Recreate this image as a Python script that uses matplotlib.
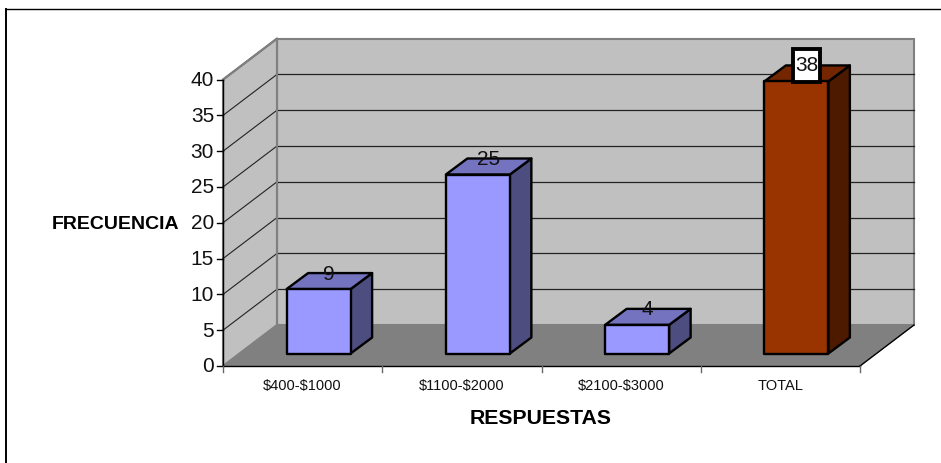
#!/usr/bin/env python3
import matplotlib
matplotlib.use("Agg")
import matplotlib.pyplot as plt
from matplotlib.patches import Polygon, Rectangle

plt.rcParams['font.family'] = ['Liberation Sans', 'DejaVu Sans']

categorias = ["$400-$1000", "$1100-$2000", "$2100-$3000", "TOTAL"]
valores = [9, 25, 4, 38]
ticks_y = [0, 5, 10, 15, 20, 25, 30, 35, 40]

W, H = 941, 464
# escala de pixeles: plano frontal
X0, PX_CAT = 223, 159.25
Y0, PX_VAL = 367, 7.16
# profundidad de la caja y de la barra (en unidades de datos)
DX, DY = 54 / PX_CAT, 41 / PX_VAL
BX, BY = 21.5 / PX_CAT, 16 / PX_VAL
BAR_OFF_X, BAR_OFF_Y = 16 / PX_CAT, 12.5 / PX_VAL
BAR_W = 64 / PX_CAT

fig = plt.figure(figsize=(W / 100, H / 100), dpi=100)
ax = fig.add_axes([0, 0, 1, 1])
ax.set_xlim(-X0 / PX_CAT, (W - X0) / PX_CAT)
ax.set_ylim((Y0 - H) / PX_VAL, Y0 / PX_VAL)
ax.axis("off")

GRIS = "#c0c0c0"
BORDE = "#808080"
n = len(categorias)

# paredes y piso
ax.add_patch(Polygon([(DX, DY), (n + DX, DY), (n + DX, 40 + DY), (DX, 40 + DY)],
                     fc=GRIS, ec=BORDE, lw=1.5, zorder=1))
ax.add_patch(Polygon([(0, 0), (DX, DY), (DX, 40 + DY), (0, 40)],
                     fc=GRIS, ec=BORDE, lw=1.5, zorder=1))
ax.add_patch(Polygon([(0, 0), (n, 0), (n + DX, DY), (DX, DY)],
                     fc=BORDE, ec=BORDE, lw=0.5, zorder=2))

# lineas de la cuadricula
for t in ticks_y[1:]:
    if t < 40:
        ax.plot([DX, n + DX], [t + DY, t + DY], color="#222222", lw=0.9, zorder=2)
    ax.plot([0, DX], [t, t + DY], color="#222222", lw=0.8, zorder=2)
ax.plot([0, DX], [40, 40 + DY], color=BORDE, lw=1.5, zorder=3)
ax.plot([DX, DX], [DY, 40 + DY], color=BORDE, lw=1.5, zorder=3)

# ejes
ax.plot([0, 0], [0, 40], color="black", lw=1, zorder=4)
ax.plot([0, n], [0, 0], color="black", lw=1, zorder=4)
ax.plot([n, n + DX], [0, DY], color="black", lw=1, zorder=3)
for t in ticks_y:
    ax.plot([-6 / PX_CAT, 0], [t, t], color="black", lw=1, zorder=4)
    ax.text(-9 / PX_CAT, t, str(t), ha="right", va="center", fontsize=15, color="#111111")
for i in range(n + 1):
    ax.plot([i, i], [0, -6 / PX_VAL], color="#666666", lw=1, zorder=4)

# barras
for i, (cat, v) in enumerate(zip(categorias, valores)):
    if cat == "TOTAL":
        cara, lado, tapa = "#993300", "#4d1a00", "#732600"
    else:
        cara, lado, tapa = "#9999ff", "#4d4d80", "#7373bf"
    x0 = i + 0.5 - BAR_W / 2 + BAR_OFF_X
    x1 = x0 + BAR_W
    y0 = BAR_OFF_Y
    y1 = y0 + v
    ec = dict(ec="black", lw=1.7, joinstyle="round", zorder=5)
    ax.add_patch(Polygon([(x1, y0), (x1 + BX, y0 + BY), (x1 + BX, y1 + BY), (x1, y1)], fc=lado, **ec))
    ax.add_patch(Polygon([(x0, y1), (x1, y1), (x1 + BX, y1 + BY), (x0 + BX, y1 + BY)], fc=tapa, **ec))
    ax.add_patch(Polygon([(x0, y0), (x1, y0), (x1, y1), (x0, y1)], fc=cara, **ec))

    # etiqueta de valor
    xt, yt = x0 + BAR_W / 2 + 10.5 / PX_CAT, y1 + BY
    if cat == "TOTAL":
        yt = y1 + 16.5 / PX_VAL
        ax.add_patch(Rectangle((xt - 13.5 / PX_CAT, y1 - 0.5 / PX_VAL), 27 / PX_CAT, 33 / PX_VAL,
                               fc="white", ec="black", lw=2.8, zorder=6))
    ax.text(xt, yt, str(v), ha="center", va="center", fontsize=15, color="#111111", zorder=7)

    ax.text(i + 0.5, -19 / PX_VAL, cat, ha="center", va="center", fontsize=10.5,
            color="#111111", parse_math=False)

ax.text(-44 / PX_CAT, (Y0 - 225) / PX_VAL, "FRECUENCIA", ha="right", va="center",
        fontsize=14, fontweight="bold")
ax.text((541 - X0) / PX_CAT, (Y0 - 419) / PX_VAL, "RESPUESTAS", ha="center", va="center",
        fontsize=15.3, fontweight="bold")

# marco (recortado a la derecha y abajo)
ax.plot([(6 - X0) / PX_CAT, (6 - X0) / PX_CAT], [(Y0 - H) / PX_VAL, (Y0 - 10) / PX_VAL],
        color="black", lw=1.4, zorder=8)
ax.plot([(6 - X0) / PX_CAT, (W - X0) / PX_CAT], [(Y0 - 10) / PX_VAL, (Y0 - 10) / PX_VAL],
        color="black", lw=1, zorder=8)

fig.savefig("out.png", dpi=100)
